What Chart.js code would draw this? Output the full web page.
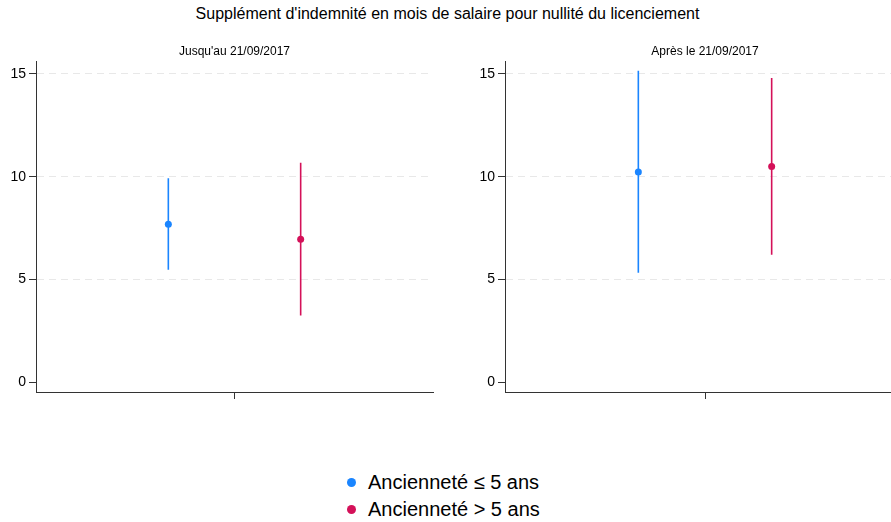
<!DOCTYPE html>
<html lang="fr">
  <head>
    <meta charset="UTF-8" />
    <title>Supplément d'indemnité</title>
    <script src="https://cdn.jsdelivr.net/npm/chart.js@4.4.0/dist/chart.umd.min.js"></script>
    <style>
      html, body { margin: 0; padding: 0; overflow: hidden; background: #fff; }
      body { width: 891px; height: 522px; position: relative; font-family: "Liberation Sans", Arial, sans-serif; }
      #titre { position: absolute; top: 5px; left: 0; width: 895px; text-align: center; font-size: 16px; color: #000; }
      .panel { position: absolute; top: 40px; }
      #legende { position: absolute; left: 347px; top: 469px; font-size: 20px; color: #000; }
      #legende div { height: 27px; line-height: 27px; white-space: nowrap; }
      #legende span.pt { display: inline-block; width: 9px; height: 9px; border-radius: 50%; margin-right: 12px; vertical-align: 2px; }
    </style>
  </head>
  <body>
    <div id="titre">Supplément d'indemnité en mois de salaire pour nullité du licenciement</div>
    <canvas id="g1" class="panel" width="445" height="370" style="left:0px"></canvas>
    <canvas id="g2" class="panel" width="445" height="370" style="left:469px"></canvas>
    <div id="legende"></div>
    <script>
      // périodes (un panneau chacune)
      const periodes = ["Jusqu'au 21/09/2017", "Après le 21/09/2017"];
      // séries
      const series = ["Ancienneté ≤ 5 ans", "Ancienneté > 5 ans"];
      const couleurs = ["#1a85ff", "#d41159"];
      const seriesX = [2, 4]; // position de chaque série sur l'axe x (0..6)

      // estimations et intervalles, par série puis par période
      const estim = [
        [7.69, 10.23],
        [6.96, 10.5],
      ];
      const bornesBas = [
        [5.48, 5.33],
        [3.26, 6.21],
      ];
      const bornesHaut = [
        [9.92, 15.15],
        [10.68, 14.79],
      ];
      const yTicks = [0, 5, 10, 15];

      const police = "'Liberation Sans', Arial, sans-serif";
      const axe = "#333";

      function f_panel(id, p, droite) {
        const datasets = [];
        for (let s = 0; s < series.length; s++) {
          // barre d'intervalle
          datasets.push({
            label: series[s] + " IC",
            data: [
              { x: seriesX[s], y: bornesBas[s][p] },
              { x: seriesX[s], y: bornesHaut[s][p] },
            ],
            showLine: true,
            borderColor: couleurs[s],
            borderWidth: 1.6,
            pointRadius: 0,
          });
          // point estimé
          datasets.push({
            label: series[s],
            data: [{ x: seriesX[s], y: estim[s][p] }],
            backgroundColor: couleurs[s],
            borderColor: couleurs[s],
            pointRadius: 3.5,
            borderWidth: 0,
          });
        }

        return new Chart(document.getElementById(id), {
          type: "scatter",
          data: { datasets: datasets },
          options: {
            responsive: false,
            animation: false,
            layout: { padding: { left: 0, right: droite, top: 0, bottom: 0 } },
            plugins: {
              legend: { display: false },
              tooltip: { enabled: false },
              title: {
                display: true,
                text: periodes[p],
                fullSize: false,
                color: "#000",
                font: { size: 12, family: police, weight: "normal" },
                padding: { top: 4, bottom: 3 },
              },
            },
            scales: {
              x: {
                type: "linear",
                min: 0,
                max: 6,
                afterBuildTicks: (sc) => { sc.ticks = [{ value: 3 }]; },
                ticks: { display: false },
                grid: { drawOnChartArea: false, tickLength: 7, tickColor: axe, color: axe },
                border: { color: axe, width: 1 },
                afterFit: (sc) => { sc.height = 18; },
              },
              y: {
                min: -0.46,
                max: 15.6,
                afterBuildTicks: (sc) => { sc.ticks = yTicks.map((v) => ({ value: v })); },
                ticks: { color: "#000", font: { size: 14, family: police }, padding: 3 },
                grid: {
                  color: (c) => (c.tick && c.tick.value === 0 ? "rgba(0,0,0,0)" : "#e8e8e8"),
                  tickColor: axe,
                  tickLength: 7,
                  tickBorderDash: [],
                  lineWidth: 1,
                },
                border: { color: axe, width: 1, dash: [7, 5] },
                afterFit: (sc) => { sc.width = 36; },
              },
            },
          },
        });
      }

      f_panel("g1", 0, 12);
      f_panel("g2", 1, 9);

      // légende commune
      const leg = document.getElementById("legende");
      series.forEach((nom, s) => {
        const ligne = document.createElement("div");
        const pt = document.createElement("span");
        pt.className = "pt";
        pt.style.background = couleurs[s];
        ligne.appendChild(pt);
        ligne.appendChild(document.createTextNode(nom));
        leg.appendChild(ligne);
      });
    </script>
  </body>
</html>
